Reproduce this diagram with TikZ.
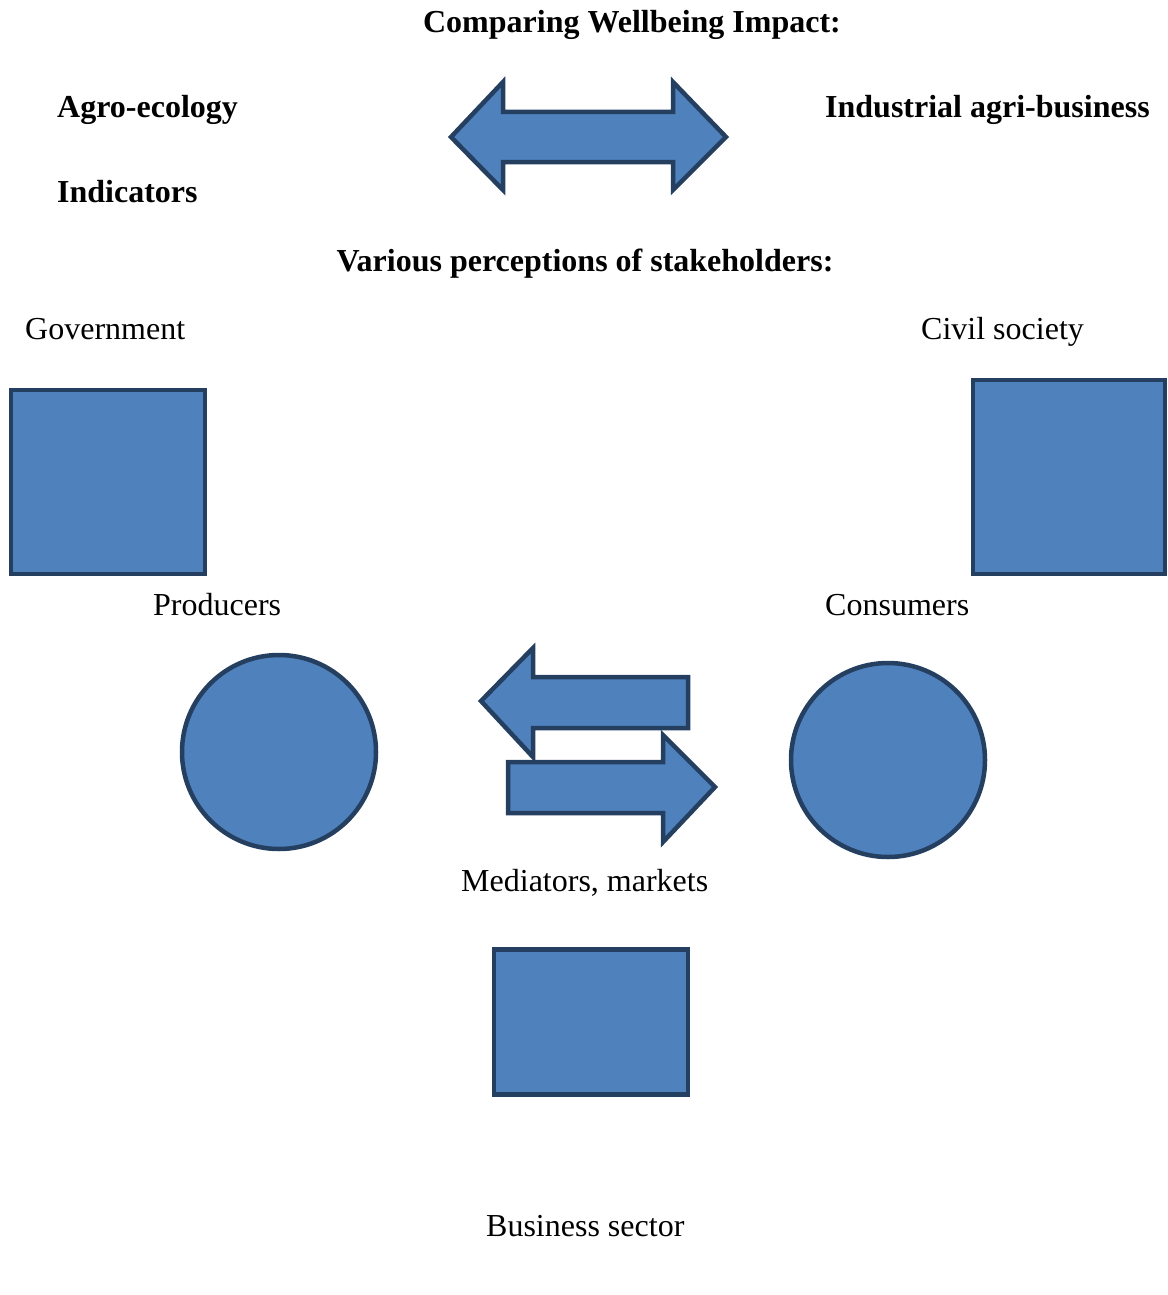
\documentclass[tikz,border=0pt]{standalone}
\usepackage{fontspec}
\setmainfont{Liberation Serif}
\usetikzlibrary{positioning}
\definecolor{boxfill}{HTML}{4F81BD}
\definecolor{boxline}{HTML}{243F60}
\tikzstyle{label} = [anchor=west, inner sep=0pt, text height=0.7em, text depth=0.2em, font=\fontsize{32}{38}\selectfont]
\tikzstyle{title} = [label, font=\fontsize{32}{38}\selectfont\bfseries]
\tikzstyle{block} = [rectangle, draw=boxline, fill=boxfill, line width=4.5pt, inner sep=0pt]
\tikzstyle{actor} = [circle, draw=boxline, fill=boxfill, line width=4.5pt, inner sep=0pt, minimum size=194pt]
\tikzstyle{bigarrow} = [draw=boxline, fill=boxfill, line width=4.5pt, line join=miter]

\begin{document}
\begin{tikzpicture}[x=1pt, y=-1pt]
\useasboundingbox (0,0) rectangle (1167,1295);

% headings
\node (compare) [title, anchor=center] at (632,30) {Comparing Wellbeing Impact:};
\node (agro) [title] at (57,115) {Agro-ecology};
\node (industrial) [title] at (825,115) {Industrial agri-business};
\node (indicators) [title] at (57,200) {Indicators};
\node (various) [title, anchor=center] at (585,269) {Various perceptions of stakeholders:};

% comparison arrow
\draw [bigarrow] (451,137) -- (503,82) -- (503,112) -- (673,112) -- (673,82) -- (726,137)
  -- (673,190) -- (673,162) -- (503,162) -- (503,190) -- cycle;

% stakeholders
\node (govlabel) [label] at (25,337) {Government};
\node (civlabel) [label] at (921,337) {Civil society};
\node (gov) [block, minimum width=194pt, minimum height=184pt] at (108,482) {};
\node (civ) [block, minimum width=192pt, minimum height=194pt] at (1069,477) {};

\node (prodlabel) [label] at (153,613) {Producers};
\node (conslabel) [label] at (825,613) {Consumers};
\node (prod) [actor] at (279,752) {};
\node (cons) [actor] at (888,760) {};

% exchange arrows
\draw [bigarrow] (481,701) -- (533,648) -- (533,677) -- (688,677) -- (688,728) -- (533,728)
  -- (533,757) -- cycle;
\draw [bigarrow] (715,787) -- (663,842) -- (663,813) -- (508,813) -- (508,762) -- (663,762)
  -- (663,735) -- cycle;

\node (medlabel) [label] at (461,889) {Mediators, markets};
\node (business) [block, minimum width=194pt, minimum height=145pt] at (591,1022) {};
\node (buslabel) [label] at (486,1234) {Business sector};
\end{tikzpicture}
\end{document}
